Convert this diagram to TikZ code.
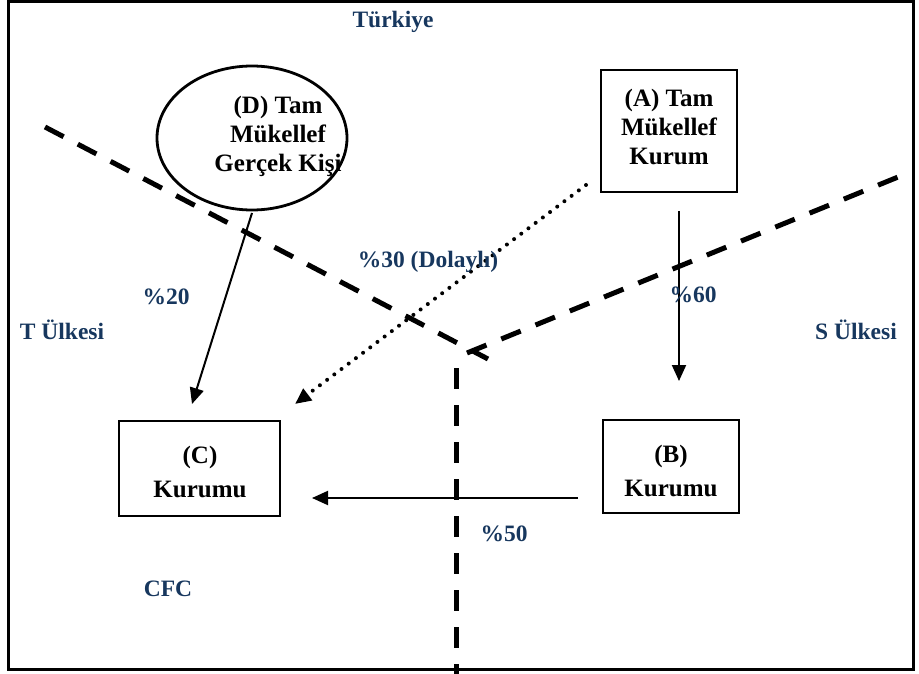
\documentclass[tikz,border=0pt]{standalone}
\usepackage{fontspec}
\setmainfont{Liberation Serif}
\usetikzlibrary{arrows.meta,shapes.geometric}
\definecolor{navy}{RGB}{23,55,94}
\begin{document}
\begin{tikzpicture}[x=1pt,y=-1pt,
  box/.style={draw,line width=1.5pt,inner sep=0pt},
  btxt/.style={font=\fontsize{25}{29}\selectfont\bfseries,align=center,inner sep=0pt},
  ctxt/.style={font=\fontsize{25}{34}\selectfont\bfseries,align=center,inner sep=0pt},
  lbl/.style={font=\fontsize{23.5}{27}\selectfont\bfseries,text=navy,inner sep=0pt},
  bordline/.style={line width=5pt,dash pattern=on 21pt off 16pt},
  flow/.style={line width=2pt,-{Triangle[length=16pt,width=14pt]}},
  dotflow/.style={line width=4pt,line cap=round,dash pattern=on 0pt off 9pt,-{Triangle[length=16pt,width=14pt]}}]
\useasboundingbox (0,0) rectangle (919,674);
\draw[line width=3pt] (8,1.5) rectangle (913,669);

% border lines
\coordinate (l1s) at (45,127);
\coordinate (l1e) at (488,359);
\coordinate (l2s) at (467,353);
\coordinate (l2e) at (903,175);
\coordinate (l3s) at (456,368);
\coordinate (l3e) at (456,674);
\draw[bordline] (l1s) -- (l1e);
\draw[bordline] (l2s) -- (l2e);
\draw[bordline] (l3s) -- (l3e);

% entities
\node[draw,ellipse,line width=2.8pt,minimum width=190pt,minimum height=144pt,fill=white] (D) at (252,138) {};
\node[btxt] (Dt) at (278,136) {(D) Tam\\Mükellef\\Gerçek Kişi};
\node[box,fill=white,minimum width=136pt,minimum height=122pt] (A) at (669,131) {};
\node[btxt] (At) at (669,127) {(A) Tam\\Mükellef\\Kurum};
\node[box,minimum width=161pt,minimum height=95pt] (C) at (199.5,468.5) {};
\node[ctxt] (Ct) at (200,472) {(C)\\Kurumu};
\node[box,minimum width=136pt,minimum height=93pt] (B) at (671,466.5) {};
\node[ctxt] (Bt) at (671,471) {(B)\\Kurumu};

% connectors
\coordinate (dC1) at (252,213);
\coordinate (dC2) at (192,404);
\coordinate (aB1) at (679,211);
\coordinate (aB2) at (679,381);
\coordinate (bC1) at (578,498);
\coordinate (bC2) at (312,498);
\coordinate (aC1) at (586,185);
\coordinate (aC2) at (295,404);
\draw[flow] (dC1) -- (dC2);
\draw[flow] (aB1) -- (aB2);
\draw[flow] (bC1) -- (bC2);
\draw[dotflow] (aC1) -- (aC2);

% labels
\node[lbl] (tr) at (393,22) {Türkiye};
\node[lbl] (p20) at (166,297) {\%20};
\node[lbl] (p30) at (428,262) {\%30 (Dolaylı)};
\node[lbl] (p60) at (693,295) {\%60};
\node[lbl] (tu) at (62,330) {T Ülkesi};
\node[lbl] (su) at (856,330) {S Ülkesi};
\node[lbl] (p50) at (504,534) {\%50};
\node[lbl] (cfc) at (168,589) {CFC};
\end{tikzpicture}
\end{document}
